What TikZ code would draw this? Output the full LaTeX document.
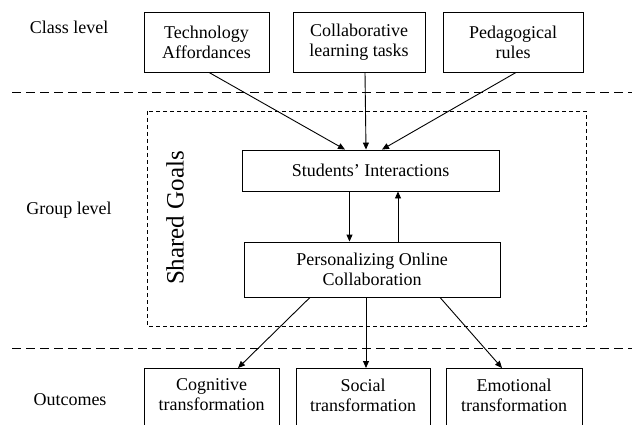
\documentclass[tikz,border=0pt]{standalone}
\usepackage{fontspec}
\setmainfont{Liberation Serif}
\usetikzlibrary{positioning}
\usetikzlibrary{shapes,arrows,calc,arrows.meta}

\begin{document}
\begin{tikzpicture}[x=1pt, y=-1pt, line width=0.9pt,
    font=\fontsize{18}{20}\selectfont,
    box/.style={draw, rectangle, align=center, inner sep=0pt},
    outbox/.style={box, anchor=north, inner ysep=10.5pt},
    arr/.style={-{Triangle[length=7pt,width=6pt]}},
    sep/.style={dash pattern=on 9pt off 5pt}]
    \useasboundingbox (0,0) rectangle (632,425);
    \clip (0,0) rectangle (632,425);

    % Levels
    \node (class) at (69,27) {Class level};
    \node (group) at (69,210) {Group level};
    \node (outc) at (70,400) {Outcomes};
    \draw [sep] (12,92) -- (632,92);
    \draw [sep] (12,348) -- (632,348);
    \draw [dash pattern=on 4pt off 3pt] (147,111) rectangle (586,326);
    \node [rotate=90, font=\fontsize{25}{30}\selectfont] (goals) at (175,218) {Shared Goals};

    % Nodes
    \node [box, minimum width=125pt, minimum height=60pt] (tech) at (206.5,42) {Technology\\Affordances};
    \node [box, minimum width=132pt, minimum height=60pt] (tasks) at (359,42) {Collaborative\\learning tasks};
    \node [box, minimum width=140pt, minimum height=60pt] (rules) at (513,42) {Pedagogical\\rules};
    \node [box, minimum width=257pt, minimum height=41pt] (inter) at (370.5,170.5) {Students’ Interactions};
    \node [box, minimum width=256pt, minimum height=55pt] (pers) at (372,269.5) {Personalizing Online\\Collaboration};
    \node [outbox, minimum width=135pt] (cogn) at (211.5,368) {Cognitive\\transformation\\[20pt]~};
    \node [outbox, minimum width=134pt] (soc) at (363,368) {Social\\transformation\\[20pt]~};
    \node [outbox, minimum width=136pt] (emo) at (514,368) {Emotional\\transformation\\[20pt]~};

    % Arrows
    \draw [arr] ([xshift=2.5pt]tech.south) -- ([xshift=-25.5pt]inter.north);
    \draw [arr] ([xshift=6pt]tasks.south) -- ([xshift=-4.5pt]inter.north);
    \draw [arr] ([xshift=3pt]rules.south) -- ([xshift=11.5pt]inter.north);
    \draw [arr] ([xshift=-21pt]inter.south) -- ([xshift=-21pt]inter.south |- pers.north);
    \draw [arr] ([xshift=26pt]pers.north) -- ([xshift=26pt]pers.north |- inter.south);
    \draw [arr] ([xshift=-62pt]pers.south) -- ([xshift=26.5pt]cogn.north);
    \draw [arr] ([xshift=-6pt]pers.south) -- ([xshift=3pt]soc.north);
    \draw [arr] ([xshift=68pt]pers.south) -- ([xshift=-12pt]emo.north);
\end{tikzpicture}
\end{document}
